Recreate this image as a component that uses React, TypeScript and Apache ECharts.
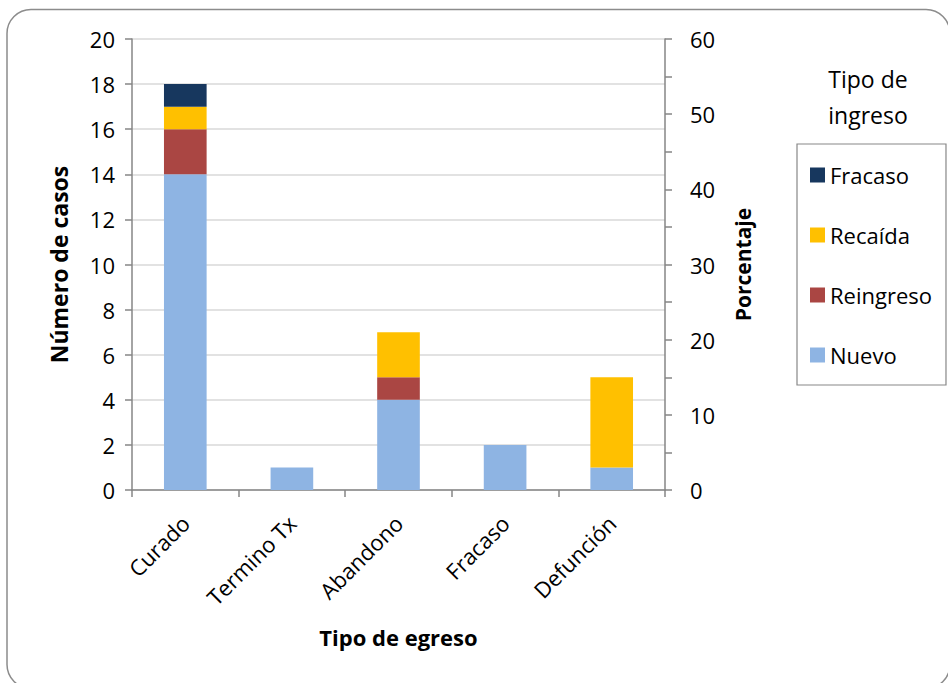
import React, { useEffect, useRef } from "react";
import * as echarts from "echarts";

const categories = ["Curado", "Termino Tx", "Abandono", "Fracaso", "Defunción"];
const nuevo = [14, 1, 4, 2, 1];
const reingreso = [2, 0, 1, 0, 0];
const recaida = [1, 0, 2, 0, 4];
const fracaso = [1, 0, 0, 0, 0];
const leftTicks = { min: 0, max: 20, interval: 2 };
const rightTicks = { min: 0, max: 60, interval: 10 };

const FONT = "'Open Sans', 'Noto Sans', sans-serif";
const AXIS = "#868686";

export default function App() {
  const ref = useRef<HTMLDivElement>(null);
  useEffect(() => {
    if (!ref.current) return;
    const chart = echarts.init(ref.current, undefined, { renderer: "svg" });
    const mk = (name: string, data: number[], color: string) => ({
      name,
      type: "bar",
      stack: "total",
      yAxisIndex: 0,
      barWidth: "40%",
      itemStyle: { color },
      data: data.map((v) => (v === 0 ? null : v)),
    });
    chart.setOption({
      animation: false,
      textStyle: { fontFamily: FONT },
      grid: { left: 132, right: 283, top: 39, bottom: 193 },
      legend: {
        orient: "vertical",
        left: 797,
        top: 144,
        data: ["Fracaso", "Recaída", "Reingreso", "Nuevo"],
        itemWidth: 15,
        itemHeight: 15,
        itemGap: 38,
        padding: [20, 14, 19, 13],
        borderColor: "#888888",
        borderWidth: 1.2,
        icon: "rect",
        textStyle: { fontSize: 22, color: "#000", fontFamily: FONT, lineHeight: 22 },
      },
      xAxis: {
        type: "category",
        data: categories,
        name: "Tipo de egreso",
        nameLocation: "middle",
        nameGap: 136,
        nameTextStyle: { fontSize: 22, fontWeight: "bold", color: "#000", fontFamily: FONT },
        axisLine: { lineStyle: { color: AXIS, width: 1.5 } },
        axisTick: { show: true, length: 7, alignWithLabel: false, lineStyle: { color: AXIS, width: 1.5 } },
        axisLabel: { rotate: 45, fontSize: 22, color: "#000", margin: 29, fontFamily: FONT },
      },
      yAxis: [
        {
          type: "value",
          ...leftTicks,
          position: "left",
          name: "Número de casos",
          nameLocation: "middle",
          nameRotate: 90,
          nameGap: 62,
          nameTextStyle: { fontSize: 23, fontWeight: "bold", color: "#000", fontFamily: FONT },
          axisLine: { show: true, lineStyle: { color: AXIS, width: 1.5 } },
          axisTick: { show: true, length: 7, lineStyle: { color: AXIS, width: 1.5 } },
          axisLabel: { fontSize: 22, color: "#000", margin: 17, fontFamily: FONT },
          splitLine: { show: true, lineStyle: { color: "#d9d9d9", width: 1.5 } },
        },
        {
          type: "value",
          ...rightTicks,
          position: "right",
          alignTicks: false,
          name: "Porcentaje",
          nameLocation: "middle",
          nameRotate: 90,
          nameGap: 67,
          nameTextStyle: { fontSize: 21, fontWeight: "bold", color: "#000", fontFamily: FONT },
          axisLine: { show: true, lineStyle: { color: AXIS, width: 1.5 } },
          axisTick: { show: true, length: 7, lineStyle: { color: AXIS, width: 1.5 } },
          minorTick: { show: true, splitNumber: 2, length: 7, lineStyle: { color: AXIS, width: 1.5 } },
          axisLabel: { fontSize: 22, color: "#000", margin: 25, fontFamily: FONT },
          splitLine: { show: false },
        },
      ],
      series: [
        mk("Nuevo", nuevo, "#8EB4E3"),
        mk("Reingreso", reingreso, "#AA4643"),
        mk("Recaída", recaida, "#FFC000"),
        mk("Fracaso", fracaso, "#17375E"),
      ],
      graphic: [
        {
          type: "rect",
          z: -10,
          silent: true,
          shape: { x: 7, y: 9.5, width: 943, height: 679, r: 24 },
          style: { fill: "none", stroke: "#8c8c8c", lineWidth: 1.5 },
        },
        {
          type: "text",
          x: 868,
          y: 61,
          style: {
            text: "Tipo de\ningreso",
            align: "center",
            verticalAlign: "top",
            fontSize: 23,
            lineHeight: 36,
            fill: "#000",
            fontFamily: FONT,
          },
        },
      ],
    });
    return () => chart.dispose();
  }, []);
  return (
    <div
      ref={ref}
      style={{ position: "absolute", left: 0, top: 0, width: 948, height: 683, background: "#fff" }}
    />
  );
}
